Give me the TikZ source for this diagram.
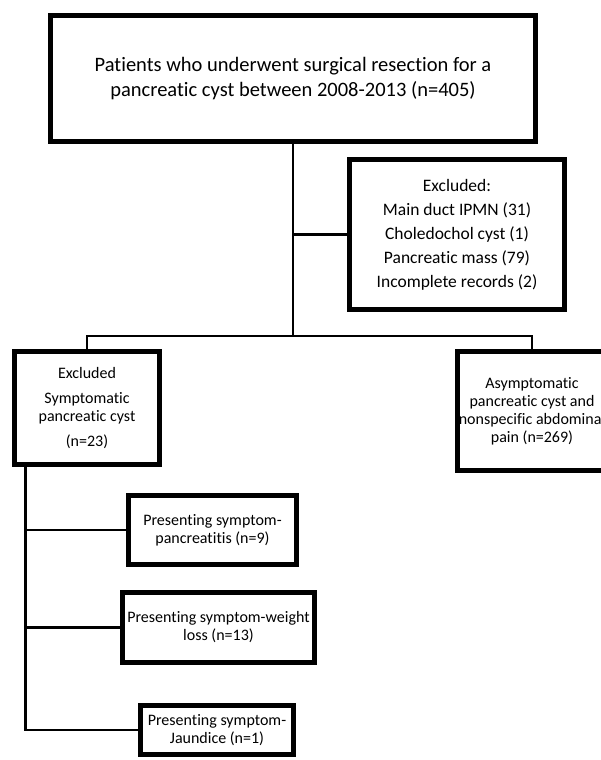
\documentclass[tikz,border=0pt]{standalone}
\usepackage{fontspec}
\setmainfont{Carlito}[Ligatures=NoCommon]
\usetikzlibrary{shadows}
\begin{document}
\begin{tikzpicture}[x=1pt,y=-1pt,
    box/.style={draw,line width=5pt,fill=white,align=center,inner sep=0pt,
      drop shadow={shadow xshift=2pt,shadow yshift=-2.5pt,opacity=0.3}},
    small/.style={font=\fontsize{16}{18}\selectfont},
    link/.style={line width=2.5pt}]
      \useasboundingbox (0,0) rectangle (601,760);
      % boxes
      \node[box,minimum width=485pt,minimum height=126pt,font=\fontsize{20.5}{25}\selectfont] (top) at (293,78.5) {Patients who underwent surgical resection for a\\pancreatic cyst between 2008-2013 (n=405)};
      \node[box,minimum width=215pt,minimum height=150pt,font=\fontsize{17.5}{24}\selectfont] (excl) at (457,234.5) {Excluded:\\Main duct IPMN (31)\\Choledochol cyst (1)\\Pancreatic mass (79)\\Incomplete records (2)};
      \node[box,small,minimum width=145pt,minimum height=113pt] (sympt) at (87,408) {Excluded\\[7pt]Symptomatic\\pancreatic cyst\\[7pt](n=23)};
      \node[box,small,minimum width=149pt,minimum height=119pt] (asym) at (532,411) {Asymptomatic\\pancreatic cyst and\\nonspecific abdominal\\pain (n=269)};
      \node[box,small,minimum width=168pt,minimum height=69pt] (panc) at (212.5,530) {Presenting symptom-\\pancreatitis (n=9)};
      \node[box,small,minimum width=192pt,minimum height=70pt] (wloss) at (218.5,627.5) {Presenting symptom-weight\\loss (n=13)};
      \node[box,small,minimum width=153pt,minimum height=49pt] (jaund) at (217,730) {Presenting symptom-\\Jaundice (n=1)};
      % connectors
      \coordinate (split) at (top.south |- 0,336);
      \coordinate (spine) at ([xshift=13.5pt]sympt.south west);
      \draw[link] (top.south) -- (split);
      \draw[link] (top.south |- excl.west) -- (excl.west);
      \draw[link] (sympt.north) |- (split) -| (asym.north);
      \draw[link] (spine) |- (jaund.west);
      \draw[link] (spine |- panc.west) -- (panc.west);
      \draw[link] (spine |- wloss.west) -- (wloss.west);
\end{tikzpicture}
\end{document}
